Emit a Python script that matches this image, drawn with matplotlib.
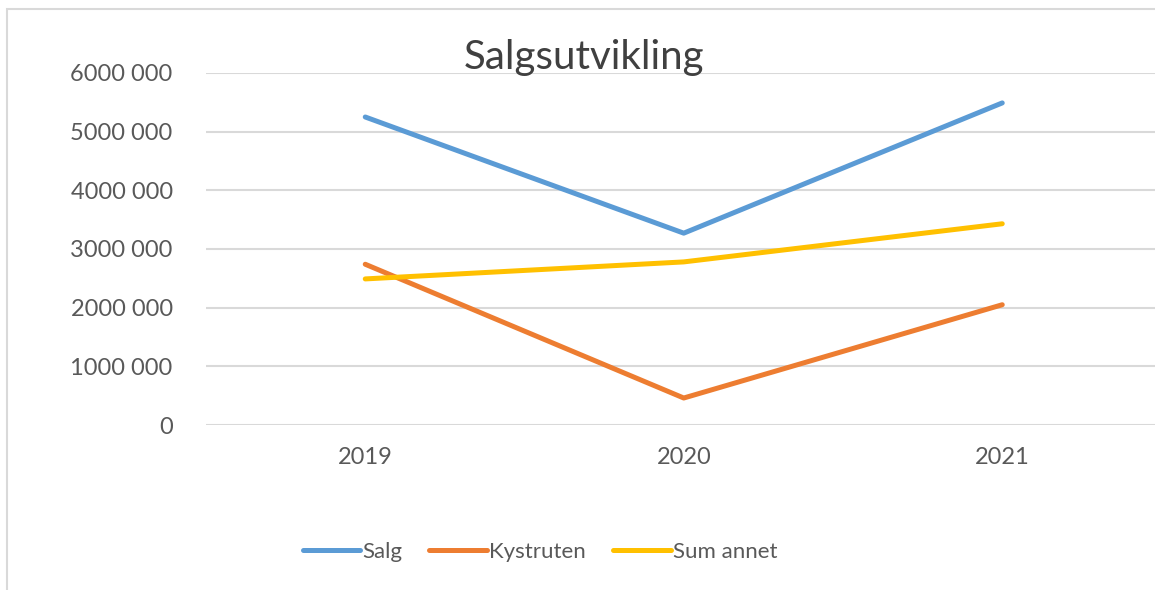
import matplotlib.pyplot as plt
from matplotlib.patches import Rectangle

# data
years = ['2019', '2020', '2021']
salg = [5250000, 3270000, 5490000]
kystruten = [2740000, 460000, 2050000]
sum_annet = [2490000, 2780000, 3430000]

y_ticks = [0, 1000000, 2000000, 3000000, 4000000, 5000000, 6000000]
y_labels = ['0', '1000 000', '2000 000', '3000 000', '4000 000', '5000 000', '6000 000']

plt.rcParams['font.family'] = ['Lato', 'DejaVu Sans']
TXT = '#595959'
GRID = '#d9d9d9'

W, H = 1155, 590
fig = plt.figure(figsize=(W/100, H/100), dpi=100)

# chart border (only left/top visible, rest cut off)
fig.patches.append(Rectangle((7/W, -0.05), 1.2, 1 - 9/H + 0.05, transform=fig.transFigure,
                             fill=False, edgecolor=GRID, linewidth=1.5))

ax = fig.add_axes([206/W, 1 - 425/H, 1 - 206/W, (425 - 73)/H])

x = range(len(years))
ax.plot(x, salg, color='#5B9BD5', lw=3.6, solid_capstyle='round', label='Salg', zorder=3)
ax.plot(x, kystruten, color='#ED7D31', lw=3.6, solid_capstyle='round', label='Kystruten', zorder=3)
ax.plot(x, sum_annet, color='#FFC000', lw=3.6, solid_capstyle='round', label='Sum annet', zorder=3)

ax.set_xlim(-0.5, (W - 206)/318.5 - 0.5)
ax.set_ylim(0, 6000000)
ax.set_yticks(y_ticks)
ax.set_yticklabels(y_labels)
ax.set_xticks(list(x))
ax.set_xticklabels(years)

ax.tick_params(axis='y', length=0, pad=24, labelsize=17, labelcolor=TXT)
ax.tick_params(axis='x', length=0, pad=16, labelsize=17, labelcolor=TXT)
ax.grid(axis='y', color=GRID, lw=1.5, zorder=0)
for s in ax.spines.values():
    s.set_visible(False)
ax.set_axisbelow(True)

fig.text(584/W, 1 - 57/H, 'Salgsutvikling', ha='center', va='center', fontsize=29, color='#404040')

fig.legend(loc='center', bbox_to_anchor=(540/W, 1 - 552/H), ncol=3, frameon=False,
           fontsize=16, handlelength=2.6, handletextpad=0.1, columnspacing=1.2,
           labelcolor=TXT)

fig.savefig('out.png', dpi=100)
